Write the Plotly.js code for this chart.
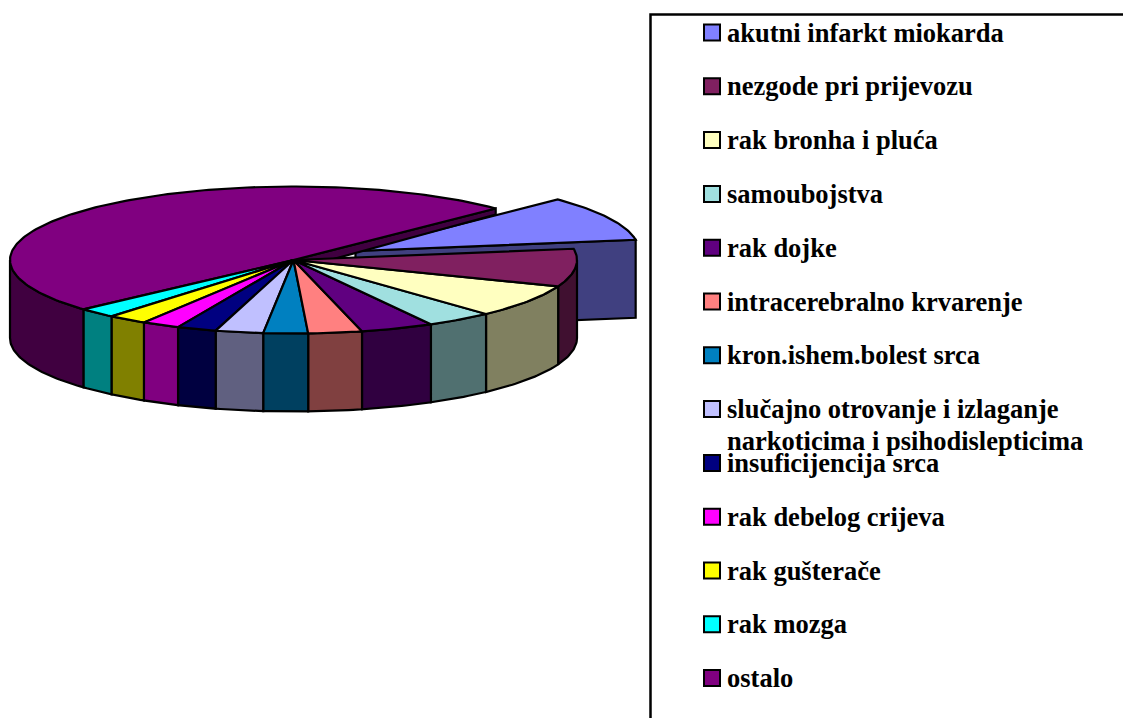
<!DOCTYPE html>
<html>
<head>
<meta charset="utf-8">
<script src="https://cdn.plot.ly/plotly-3.0.1.min.js"></script>
<style>html,body{margin:0;padding:0;background:#fff;overflow:hidden}#c{width:1123px;height:718px}</style>
</head>
<body>
<div id="c"></div>
<script>
const categories = ["akutni infarkt miokarda","nezgode pri prijevozu","rak bronha i pluća","samoubojstva","rak dojke","intracerebralno krvarenje","kron.ishem.bolest srca","slučajno otrovanje i izlaganje<br>narkoticima i psihodislepticima","insuficijencija srca","rak debelog crijeva","rak gušterače","rak mozga","ostalo"];
const values = [9.92,8.28,7.28,3.83,4.17,3.06,2.53,2.72,2.25,2.17,2.25,2.19,49.36];
const topColors = ["#8080ff","#802060","#ffffc0","#a0e0e0","#600080","#ff8080","#0080c0","#c0c0ff","#000080","#ff00ff","#ffff00","#00ffff","#800080"];
const sideColors = ["#404080","#401030","#808060","#507070","#300040","#804040","#004060","#606080","#000040","#800080","#808000","#008080","#400040"];

// projection of the tilted pie onto the page (page pixels = axis units)
const cx = 293.5, cy = 260, rx = 283.5, ry = 73.5, depth = 78;
const startAngle = -44.5;
const explodeDx = 62, explodeDy = -9;
const LW = 2.2;

const total = values.reduce((a,b)=>a+b,0);
const spans = []; let acc = startAngle;
values.forEach(v=>{const d=v/total*360; spans.push([acc,acc+d]); acc+=d;});

function pt(a,ox,oy,dz){const r=a*Math.PI/180;return [cx+ox+rx*Math.cos(r),cy+oy+ry*Math.sin(r)+dz];}
function arc(a0,a1,ox,oy,dz){const out=[];const n=Math.max(2,Math.ceil(Math.abs(a1-a0)));for(let i=0;i<=n;i++){out.push(pt(a0+(a1-a0)*i/n,ox,oy,dz));}return out;}
function poly(points,color,name){
  const x=points.map(p=>p[0]), y=points.map(p=>p[1]);
  x.push(x[0]); y.push(y[0]);
  return {type:"scatter",mode:"lines",x,y,fill:"toself",fillcolor:color,name,
    line:{color:"#000",width:LW,shape:"linear"},hoverinfo:"name",showlegend:false,cliponaxis:false};
}
function topFace(i,ox,oy){
  return poly([[cx+ox,cy+oy]].concat(arc(spans[i][0],spans[i][1],ox,oy,0)),topColors[i],categories[i]);
}
// outer wall: visible only on the front half of the rim (0..180 degrees)
function sideFace(i){
  const a0=Math.max(spans[i][0],0), a1=Math.min(spans[i][1],180);
  if(a1<=a0) return null;
  return poly(arc(a0,a1,0,0,0).concat(arc(a1,a0,0,0,depth)),sideColors[i],categories[i]);
}

const traces=[];
// exploded first slice: radial cut wall and top
const ex=explodeDx, ey=explodeDy;
const endA=spans[0][1];
const rim=pt(endA,ex,ey,0);
traces.push(poly([[cx+ex,cy+ey],rim,[rim[0],rim[1]+depth],[cx+ex,cy+ey+depth]],sideColors[0],categories[0]));
traces.push(topFace(0,ex,ey));
// narrow visible part of the last slice's cut wall
const lastEnd=pt(spans[12][1],0,0,0);
traces.push(poly([[cx,cy],lastEnd,[lastEnd[0],lastEnd[1]+6],[cx,cy+10]],sideColors[12],categories[12]));
// outer walls of the main body
for(let i=1;i<values.length;i++){const s=sideFace(i); if(s) traces.push(s);}
// top faces of the main body
for(let i=values.length-1;i>=1;i--){traces.push(topFace(i,0,0));}

// legend
const legTop=32.5, legStep=53.8, swatchX=712, textX=727, lineStep=31.5;
const legendY=categories.map((c,i)=>legTop+i*legStep);
traces.push({type:"scatter",mode:"markers",x:categories.map(()=>swatchX),y:legendY,
  marker:{symbol:"square",size:16,color:topColors,line:{color:"#000",width:2}},
  hoverinfo:"skip",showlegend:false,cliponaxis:false});
const annotations=[];
categories.forEach((c,i)=>{
  c.split("<br>").forEach((line,k)=>{
    annotations.push({x:textX,y:legendY[i]+k*lineStep,xref:"x",yref:"y",text:"<b>"+line+"</b>",
      showarrow:false,xanchor:"left",yanchor:"middle",align:"left",
      font:{family:"Liberation Serif",size:26.5,color:"#000"},borderpad:0,borderwidth:0});
  });
});

const layout={
  width:1123,height:718,margin:{l:0,r:0,t:0,b:0},
  paper_bgcolor:"#fff",plot_bgcolor:"#fff",showlegend:false,hovermode:"closest",
  xaxis:{range:[0,1123],visible:false,fixedrange:true},
  yaxis:{range:[718,0],visible:false,fixedrange:true},
  annotations,
  shapes:[{type:"path",path:"M 650.5 718 L 650.5 14.5 L 1123 14.5",xref:"x",yref:"y",line:{color:"#000",width:2.5}}]
};
Plotly.newPlot("c",traces,layout,{displayModeBar:false});
</script>
</body>
</html>
